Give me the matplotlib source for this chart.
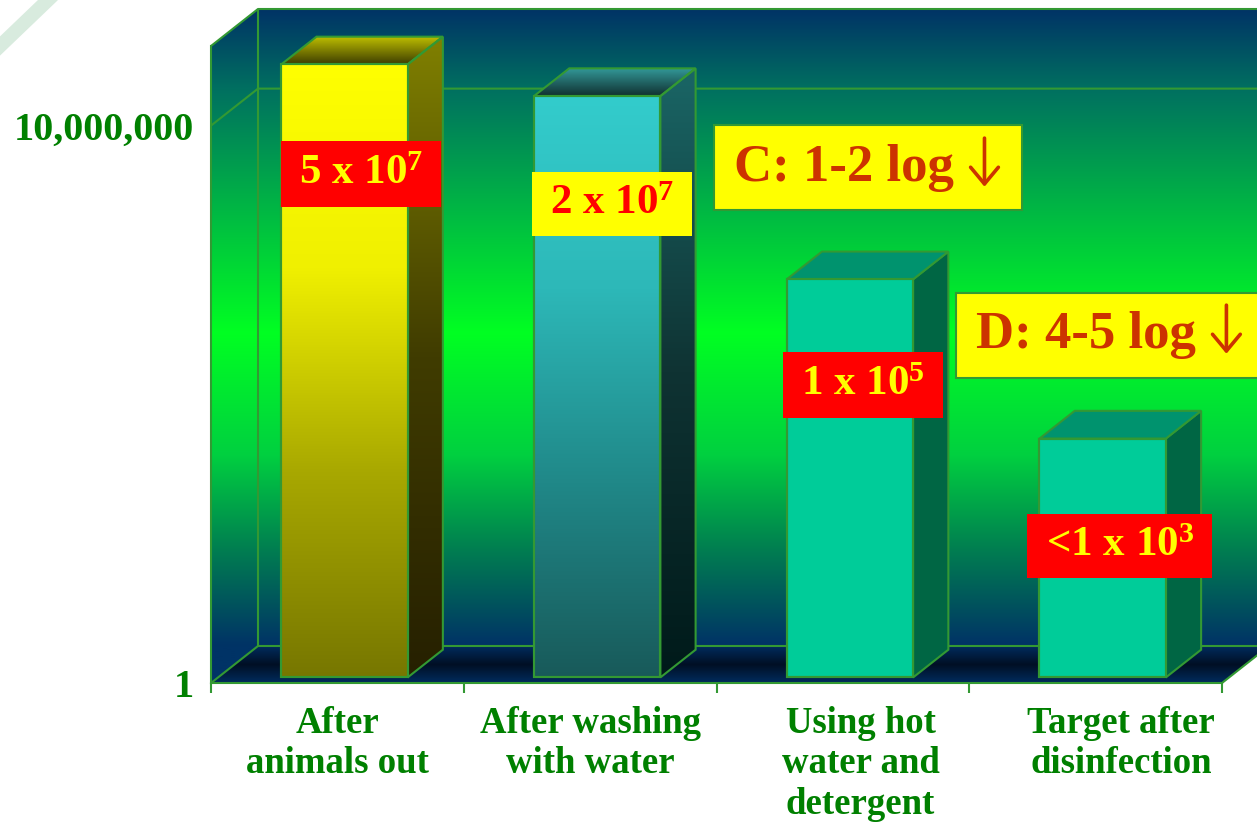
import numpy as np
import matplotlib
matplotlib.use("Agg")
import matplotlib.pyplot as plt
from matplotlib.colors import LinearSegmentedColormap
from matplotlib.patches import Polygon, Rectangle
from matplotlib.text import OffsetFrom
from matplotlib.ticker import NullLocator
from matplotlib.transforms import IdentityTransform, Affine2D, blended_transform_factory

# data
categories = ["After\nanimals out", "After washing\nwith water",
              "Using hot\nwater and\ndetergent", "Target after\ndisinfection"]
counts = [5e7, 2e7, 1e5, 1e3]
count_labels = ["5 x 10$^{7}$", "2 x 10$^{7}$", "1 x 10$^{5}$", "<1 x 10$^{3}$"]
ytick_vals = [1, 1e7]
ytick_labels = ["1", "10,000,000"]
notes = ["C: 1-2 log", "D: 4-5 log"]

W, H, DPI = 1257, 822, 100
EDGE = "#339933"
TXT = "#008000"
NAVY = "#003366"
RED = "#ff0000"
YEL = "#ffff00"
NOTE = "#cc3300"
DEPTH = np.array([47.0, 37.0])   # pixel offset of the back wall
F0, F1 = 0.15, 0.9               # bar front / back depth
BAR_W = 0.5
# back wall colour, bottom (0) to top (1)
WALL_STOPS = [(0.0, NAVY), (0.154, "#008050"), (0.299, "#00d040"), (0.491, "#00ff22"),
              (0.661, "#00c040"), (0.874, "#007060"), (1.0, NAVY)]

plt.rcParams["font.family"] = ["Liberation Serif", "DejaVu Serif"]
plt.rcParams["font.weight"] = "bold"
plt.rcParams["mathtext.fontset"] = "custom"
plt.rcParams["mathtext.rm"] = "Liberation Serif:bold"
plt.rcParams["mathtext.it"] = "Liberation Serif:bold"
plt.rcParams["mathtext.bf"] = "Liberation Serif:bold"

fig = plt.figure(figsize=(W / DPI, H / DPI), dpi=DPI)
ax = fig.add_axes([211 / W, 1 - 683 / H, (1222 - 211) / W, (683 - 46) / H])
ax.set_yscale("log")
ax.set_xlim(0, 4)
ax.set_ylim(1, 1e8)
ax.set_autoscale_on(False)
ax.patch.set_visible(False)
ID = IdentityTransform()


def px(x, y, d=0.0):
    return ax.transData.transform((x, y)) + d * DEPTH


def shade(patch, stops, z):
    # vertical gradient clipped to a patch (display coords)
    v = patch.get_verts()
    x0, y0 = v.min(axis=0)
    x1, y1 = v.max(axis=0)
    cmap = LinearSegmentedColormap.from_list("g", stops)
    im = ax.imshow(np.linspace(0, 1, 256)[:, None], cmap=cmap, extent=(x0, x1, y0, y1),
                   origin="lower", aspect="auto", transform=ID, zorder=z,
                   interpolation="bilinear")
    im.set_clip_path(patch)
    im.set_clip_box(fig.bbox)
    return im


def face(pts, colors, z):
    p = Polygon(pts, closed=True, transform=ID, edgecolor=EDGE, lw=1.5, zorder=z,
                clip_on=False, facecolor=colors[0] if len(colors) == 1 else "none")
    ax.add_patch(p)
    if len(colors) > 1:
        p.set_zorder(z + 0.02)
        shade(p, colors, z + 0.01)
    return p


# walls
fl_top, fl_bot, fr_bot = px(0, 1e8), px(0, 1), px(4, 1)
bl_top, bl_bot = px(0, 1e8, 1), px(0, 1, 1)
br_top, br_bot = px(4, 1e8, 1), px(4, 1, 1)

wall = Polygon([fl_bot, fl_top, bl_top, br_top, br_bot, bl_bot], closed=True,
               transform=ID, facecolor="none", edgecolor="none", clip_on=False)
ax.add_patch(wall)
tb = (bl_bot[1] - fl_bot[1]) / (bl_top[1] - fl_bot[1])
shade(wall, [(0, NAVY)] + [(tb + f * (1 - tb), c) for f, c in WALL_STOPS], 0.1)

floor = Polygon([fl_bot, fr_bot, br_bot, bl_bot], closed=True, transform=ID,
                facecolor="none", edgecolor="none", clip_on=False)
ax.add_patch(floor)
shade(floor, ["#002c5e", "#000f24", "#002c5e"], 0.2)

for seg in ([fl_top, bl_top, br_top], [px(0, 1e7), px(0, 1e7, 1), px(4, 1e7, 1)],
            [fl_bot, bl_bot, br_bot], [fr_bot, br_bot], [bl_top, bl_bot]):
    seg = np.array(seg)
    ax.plot(seg[:, 0], seg[:, 1], color=EDGE, lw=1.5, transform=ID, zorder=0.5,
            clip_on=False, solid_capstyle="butt")

# bars
bar_styles = [
    dict(front=["#777700", "#a8a800", "#f0f000", YEL], side=["#262000", "#403c00", "#808000"],
         top=["#3f3f00", "#c0c000"]),
    dict(front=["#185a5a", "#208888", "#2db8b8", "#33cccc"], side=["#001a1a", "#0f3333", "#1a6666"],
         top=["#103030", "#339999"]),
    dict(front=["#00cc99"], side=["#006644"], top=["#00936e"]),
    dict(front=["#00cc99"], side=["#006644"], top=["#00936e"]),
]
xs = np.arange(len(counts)) + 0.5
front_tr = ax.transData + Affine2D().translate(*(F0 * DEPTH))
bars = ax.bar(xs, counts, width=BAR_W, bottom=1, transform=front_tr, facecolor="none",
              edgecolor=EDGE, lw=1.5, zorder=2.3, clip_on=False)
for x, v, rect, st in zip(xs, counts, bars, bar_styles):
    l, r = x - BAR_W / 2, x + BAR_W / 2
    face([px(r, 1, F0), px(r, 1, F1), px(r, v, F1), px(r, v, F0)], st["side"], 2.0)
    face([px(l, v, F0), px(r, v, F0), px(r, v, F1), px(l, v, F1)], st["top"], 2.0)
    face([px(l, 1, F0), px(r, 1, F0), px(r, v, F0), px(l, v, F0)], st["front"], 2.1)


def tag(xf, yf, text, w, h, fc, tc):
    cx, cy = ax.transAxes.transform((xf, yf))
    ax.add_patch(Rectangle((cx - w / 2, cy - h / 2), w, h, transform=ID, facecolor=fc,
                           edgecolor="none", zorder=5, clip_on=False))
    ax.text(xf, yf, text, transform=ax.transAxes, ha="center", va="center", color=tc,
            fontsize=31, zorder=6, clip_on=False)


def note(xf, yf, text, w, h):
    # yellow call-out with a down arrow after the text
    cx, cy = ax.transAxes.transform((xf, yf))
    ax.add_patch(Rectangle((cx - w / 2, cy - h / 2), w, h, transform=ID, facecolor=YEL,
                           edgecolor=EDGE, lw=1.5, zorder=5, clip_on=False))
    t = ax.text(cx - w / 2 + 20, cy, text, transform=ID, ha="left", va="center",
                color=NOTE, fontsize=38, zorder=6, clip_on=False)
    anchor = OffsetFrom(t, (1, 0.5), unit="points")
    ax.annotate("", xy=(22, -13.5), xycoords=anchor, xytext=(22, 21.5), textcoords=anchor,
                arrowprops=dict(arrowstyle="->,head_length=0.6,head_width=0.5",
                                mutation_scale=20, color=NOTE, lw=2.6,
                                shrinkA=0, shrinkB=0),
                zorder=6)


tag(0.1484, 0.7991, count_labels[0], 160, 66, RED, YEL)
tag(0.3966, 0.7520, count_labels[1], 160, 64, YEL, RED)
tag(0.6449, 0.4678, count_labels[2], 160, 66, RED, YEL)
tag(0.8991, 0.2151, count_labels[3], 185, 64, RED, YEL)
note(0.6499, 0.8085, notes[0], 308, 85)
note(0.8892, 0.5463, notes[1], 308, 85)

# axes
for s in ("top", "right"):
    ax.spines[s].set_visible(False)
for s in ("left", "bottom"):
    ax.spines[s].set_color(EDGE)
    ax.spines[s].set_linewidth(1.5)
ax.set_yticks(ytick_vals, labels=ytick_labels)
ax.yaxis.set_minor_locator(NullLocator())
ax.tick_params(axis="y", length=0, pad=12, labelsize=29, labelcolor=TXT)
ax.set_xticks(range(5), labels=[""] * 5)
ax.tick_params(axis="x", length=7, width=1.5, color=EDGE, direction="out")

lab_tr = blended_transform_factory(ax.transData, ax.transAxes)
for x, name in zip([0.5, 1.5, 2.57, 3.6], categories):
    ax.text(x, -0.036, name, transform=lab_tr, ha="center", va="top", color=TXT,
            fontsize=26.5, linespacing=1.2, clip_on=False)

# faint watermark stroke in the corner
fig.add_artist(plt.Line2D([0, 48 / W], [1 - 46 / H, 1], transform=fig.transFigure,
                          color="#cfe6d6", lw=10, alpha=0.8))

fig.savefig("out.png", dpi=DPI, facecolor="white")
